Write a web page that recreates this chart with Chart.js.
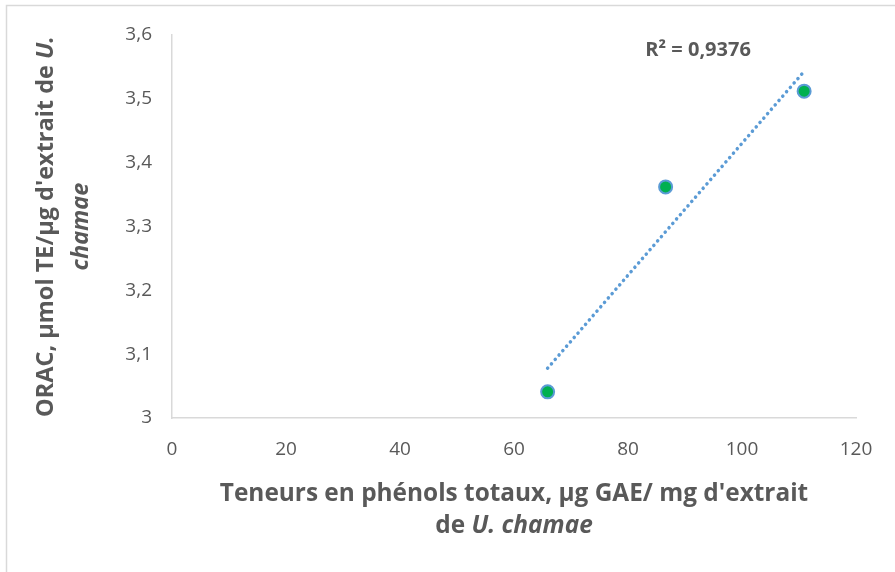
<!DOCTYPE html>
<html>
<head>
<meta charset="utf-8">
<script src="https://cdn.jsdelivr.net/npm/chart.js@4"></script>
<style>
  html, body { margin: 0; padding: 0; background: #fff; }
  #wrap { width: 895px; height: 572px; position: relative; }
</style>
</head>
<body>
<div id="wrap"><canvas id="chart"></canvas></div>
<script>
// données
const phenols = [65.9, 86.6, 110.9];      // µg GAE / mg d'extrait
const orac = [3.041, 3.362, 3.512];        // µmol TE / µg d'extrait
const trendX = [65.9, 110.9];              // extrémités de la courbe de tendance
const trendY = [3.078, 3.543];
const xTicks = [0, 20, 40, 60, 80, 100, 120];
const yTicks = [3, 3.1, 3.2, 3.3, 3.4, 3.5, 3.6];
const r2Label = "R² = 0,9376";
const xTitle = [[["Teneurs en phénols totaux, µg GAE/ mg d'extrait", false]], [["de ", false], ["U. chamae", true]]];
const yTitle = [[["ORAC, µmol TE/µg d'extrait de ", false], ["U.", true]], [["chamae", true]]];

const FONT = "'Open Sans', sans-serif";
const GREY = "#595959";

function drawRich(ctx, lines, cx, cy, lineH, size) {
  lines.forEach((parts, i) => {
    let total = 0;
    parts.forEach(p => {
      ctx.font = (p[1] ? "italic " : "") + "bold " + size + "px " + FONT;
      total += ctx.measureText(p[0]).width;
    });
    let x = cx - total / 2;
    const y = cy + (i - (lines.length - 1) / 2) * lineH;
    parts.forEach(p => {
      ctx.font = (p[1] ? "italic " : "") + "bold " + size + "px " + FONT;
      ctx.fillText(p[0], x, y);
      x += ctx.measureText(p[0]).width;
    });
  });
}

const decor = {
  id: "decor",
  beforeDraw(chart) {
    const ctx = chart.ctx;
    ctx.save();
    ctx.strokeStyle = "#d9d9d9";
    ctx.lineWidth = 1.5;
    ctx.beginPath();
    ctx.moveTo(6.5, 572);
    ctx.lineTo(6.5, 5.5);
    ctx.lineTo(895, 5.5);
    ctx.stroke();
    ctx.restore();
  },
  afterDraw(chart) {
    const ctx = chart.ctx;
    const a = chart.chartArea;
    const xs = chart.scales.x, ys = chart.scales.y;
    ctx.save();
    ctx.fillStyle = GREY;
    ctx.textAlign = "left";
    ctx.textBaseline = "middle";
    // titre axe X
    drawRich(ctx, xTitle, (a.left + a.right) / 2, 510, 32, 24.4);
    // titre axe Y
    ctx.translate(64, (a.top + a.bottom) / 2);
    ctx.rotate(-Math.PI / 2);
    drawRich(ctx, yTitle, 0, 0, 35, 23.5);
    ctx.restore();
    // R²
    ctx.save();
    ctx.fillStyle = GREY;
    ctx.font = "bold 20px " + FONT;
    ctx.textAlign = "center";
    ctx.textBaseline = "middle";
    ctx.fillText(r2Label, xs.getPixelForValue(92.3), ys.getPixelForValue(3.576));
    ctx.restore();
  }
};

new Chart(document.getElementById("chart"), {
  type: "scatter",
  data: {
    datasets: [
      {
        label: "ORAC",
        data: phenols.map((x, i) => ({ x: x, y: orac[i] })),
        backgroundColor: "#00b050",
        borderColor: "#5b9bd5",
        borderWidth: 2,
        pointRadius: 6.5,
        order: 1
      },
      {
        label: "Tendance",
        type: "line",
        data: trendX.map((x, i) => ({ x: x, y: trendY[i] })),
        borderColor: "#5b9bd5",
        borderWidth: 3.5,
        borderDash: [0.1, 5.7],
        borderCapStyle: "round",
        pointRadius: 0,
        fill: false,
        order: 2
      }
    ]
  },
  options: {
    responsive: true,
    maintainAspectRatio: false,
    animation: false,
    layout: { padding: { left: 0, top: 35, right: 39, bottom: 0 } },
    plugins: { legend: { display: false }, tooltip: { enabled: false } },
    scales: {
      x: {
        type: "linear",
        min: 0, max: 120,
        afterBuildTicks: s => { s.ticks = xTicks.map(v => ({ value: v })); },
        afterFit: s => { s.height = 154; },
        grid: { display: false, drawTicks: false },
        border: { display: true, color: "#d9d9d9", width: 1.5 },
        ticks: { color: GREY, font: { family: FONT, size: 19 }, padding: 20 }
      },
      y: {
        type: "linear",
        min: 3, max: 3.6,
        afterBuildTicks: s => { s.ticks = yTicks.map(v => ({ value: v })); },
        afterFit: s => { s.width = 172; },
        grid: { display: false, drawTicks: false },
        border: { display: true, color: "#d9d9d9", width: 1.5 },
        ticks: {
          color: GREY, font: { family: FONT, size: 19 }, padding: 20,
          callback: v => String(Math.round(v * 10) / 10).replace(".", ",")
        }
      }
    }
  },
  plugins: [decor]
});
</script>
</body>
</html>
